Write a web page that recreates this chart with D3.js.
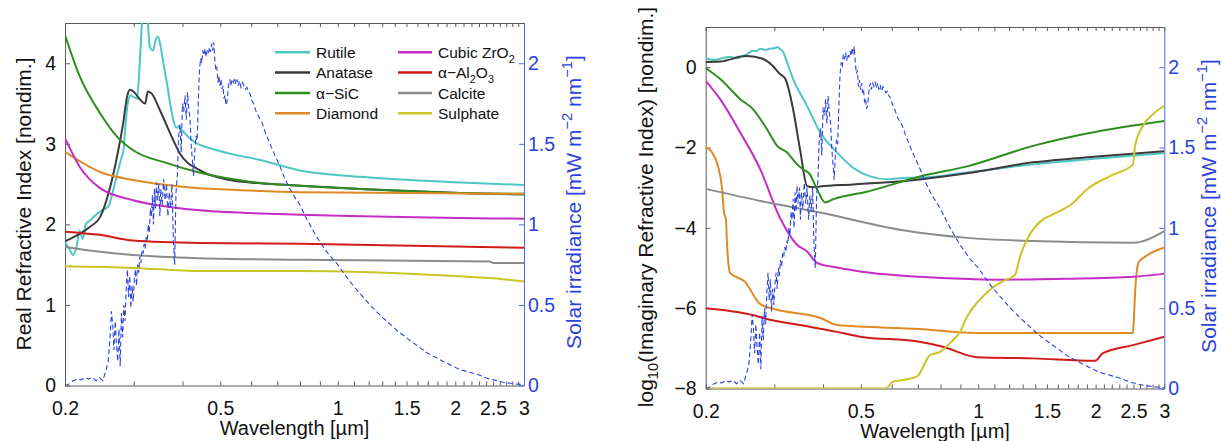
<!DOCTYPE html>
<html><head><meta charset="utf-8">
<script src="https://cdn.jsdelivr.net/npm/d3@7"></script>
<style>
body{margin:0;background:#fff;}
svg{display:block;font-family:"Liberation Sans",Arial,Helvetica,sans-serif;}
</style></head><body>
<svg id="c" width="1221" height="441"></svg>
<script>
// ---------------- DATA ----------------
const materials = ["Rutile","Anatase","α−SiC","Diamond","Cubic ZrO_{2}","α−Al_{2}O_{3}","Calcite","Sulphate"];
const materialColors = ["#4fc6c6","#3b3b3b","#2f8c1f","#e08a26","#c62cc6","#d21a1a","#8c8c8c","#cbc425"];

const xMinorTicks = [0.2,0.3,0.4,0.5,0.6,0.7,0.8,0.9,1,1.1,1.2,1.3,1.4,1.5,1.6,1.7,1.8,1.9,2,2.1,2.2,2.3,2.4,2.5,2.6,2.7,2.8,2.9,3];
const xTickLabels = [0.2,0.5,1,1.5,2,2.5,3];
const realTicks = [0,1,2,3,4];
const imagTicks = [-8,-6,-4,-2,0];
const solarTicks = [0,0.5,1,1.5,2];

// Real refractive index n(λ) : [wavelength µm, n]
const realRutile = [[0.200,1.78],[0.205,1.70],[0.210,1.62],[0.214,1.72],[0.218,1.92],[0.222,1.82],[0.226,2.00],[0.232,2.05],[0.240,2.12],[0.250,2.18],[0.258,2.22],[0.265,2.40],[0.272,2.62],[0.278,2.80],[0.282,2.90],[0.286,3.25],[0.290,3.52],[0.295,3.60],[0.300,3.58],[0.306,3.56],[0.310,3.90],[0.314,4.40],[0.318,4.75],[0.324,4.65],[0.330,4.20],[0.336,4.16],[0.342,4.30],[0.346,4.33],[0.352,4.20],[0.358,3.98],[0.365,3.75],[0.372,3.50],[0.380,3.27],[0.386,3.20],[0.392,3.22],[0.399,3.17],[0.411,3.10],[0.430,3.02],[0.460,2.96],[0.490,2.92],[0.550,2.86],[0.632,2.80],[0.800,2.67],[1.140,2.59],[2.060,2.52],[3.000,2.49]];
const realAnatase = [[0.200,1.79],[0.2318,1.97],[0.246,2.09],[0.261,2.46],[0.2718,2.84],[0.282,3.26],[0.2883,3.58],[0.2935,3.67],[0.3023,3.63],[0.310,3.56],[0.321,3.50],[0.326,3.65],[0.334,3.62],[0.350,3.42],[0.372,3.13],[0.394,2.88],[0.444,2.67],[0.529,2.55],[0.632,2.51],[0.800,2.48],[1.140,2.44],[2.060,2.39],[3.000,2.37]];
const realSiC = [[0.200,4.35],[0.2185,3.83],[0.246,3.38],[0.2718,3.09],[0.299,2.92],[0.365,2.76],[0.444,2.64],[0.596,2.53],[0.800,2.48],[1.140,2.44],[2.060,2.39],[3.000,2.38]];
const realDiamond = [[0.200,2.90],[0.246,2.65],[0.299,2.55],[0.394,2.47],[0.596,2.42],[0.800,2.40],[3.000,2.38]];
const realZrO2 = [[0.200,3.07],[0.2185,2.71],[0.246,2.45],[0.299,2.30],[0.394,2.20],[0.596,2.14],[0.800,2.12],[3.000,2.07]];
const realAl2O3 = [[0.200,1.91],[0.246,1.87],[0.299,1.80],[0.444,1.77],[0.800,1.76],[3.000,1.71]];
const realCalcite = [[0.200,1.72],[0.246,1.66],[0.299,1.62],[0.444,1.58],[0.800,1.56],[2.455,1.54],[2.500,1.52],[3.000,1.52]];
const realSulphate = [[0.200,1.48],[0.299,1.46],[0.444,1.42],[0.800,1.42],[1.140,1.41],[1.830,1.37],[2.500,1.33],[3.000,1.29]];

// log10 imaginary refractive index k(λ)
const imagRutile = [[0.200,0.22],[0.210,0.18],[0.2176,0.21],[0.225,0.24],[0.231,0.26],[0.240,0.22],[0.249,0.28],[0.255,0.32],[0.264,0.41],[0.270,0.40],[0.276,0.46],[0.285,0.43],[0.292,0.46],[0.300,0.47],[0.305,0.50],[0.310,0.45],[0.316,0.38],[0.323,0.13],[0.335,-0.29],[0.364,-0.97],[0.393,-1.62],[0.434,-2.12],[0.477,-2.50],[0.528,-2.72],[0.583,-2.79],[0.657,-2.75],[0.697,-2.75],[0.936,-2.62],[1.382,-2.42],[2.052,-2.27],[3.000,-2.14]];
const imagAnatase = [[0.200,0.13],[0.2176,0.14],[0.249,0.27],[0.255,0.28],[0.280,0.21],[0.296,0.05],[0.310,-0.17],[0.320,-0.29],[0.335,-1.04],[0.349,-2.04],[0.364,-2.96],[0.377,-2.99],[0.393,-2.97],[0.477,-2.92],[0.668,-2.82],[0.936,-2.64],[1.382,-2.37],[2.052,-2.22],[3.000,-2.09]];
const imagSiC = [[0.200,-0.02],[0.2176,-0.29],[0.245,-0.79],[0.264,-1.04],[0.287,-1.54],[0.305,-1.96],[0.323,-2.12],[0.343,-2.42],[0.355,-2.54],[0.370,-2.67],[0.386,-3.04],[0.405,-3.37],[0.424,-3.29],[0.518,-3.10],[0.709,-2.72],[0.936,-2.47],[1.382,-1.96],[2.052,-1.59],[3.000,-1.34]];
const imagDiamond = [[0.200,-1.99],[0.2076,-2.12],[0.215,-2.46],[0.220,-2.97],[0.2229,-3.62],[0.2254,-3.79],[0.2267,-4.37],[0.231,-5.12],[0.252,-5.34],[0.276,-5.90],[0.305,-6.04],[0.393,-6.24],[0.434,-6.42],[0.709,-6.52],[0.992,-6.62],[2.494,-6.62],[2.505,-6.30],[2.530,-5.47],[2.580,-4.85],[2.650,-4.75],[3.000,-4.49]];
const imagZrO2 = [[0.200,-0.34],[0.2176,-0.79],[0.245,-1.62],[0.276,-2.54],[0.310,-3.75],[0.343,-4.42],[0.364,-4.59],[0.386,-4.87],[0.434,-4.99],[0.528,-5.12],[0.709,-5.22],[1.137,-5.29],[1.689,-5.27],[2.494,-5.22],[3.000,-5.14]];
const imagAl2O3 = [[0.200,-6.00],[0.264,-6.17],[0.287,-6.27],[0.349,-6.42],[0.434,-6.59],[0.498,-6.71],[0.700,-6.83],[0.812,-6.96],[0.992,-7.22],[1.382,-7.25],[1.993,-7.31],[2.089,-7.12],[2.494,-6.92],[3.000,-6.71]];
const imagCalcite = [[0.200,-3.03],[0.276,-3.33],[0.393,-3.62],[0.660,-4.08],[0.936,-4.25],[1.382,-4.33],[2.494,-4.37],[3.000,-4.08]];
const imagSulphate = [[0.200,-8.0],[0.580,-8.0],[0.604,-7.83],[0.630,-7.80],[0.697,-7.70],[0.752,-7.17],[0.798,-7.09],[0.846,-6.87],[0.898,-6.59],[0.936,-6.21],[0.992,-5.87],[1.072,-5.54],[1.157,-5.33],[1.242,-5.17],[1.280,-4.71],[1.334,-4.29],[1.466,-3.79],[1.528,-3.70],[1.750,-3.38],[1.901,-3.04],[2.177,-2.71],[2.494,-2.42],[2.524,-1.96],[2.646,-1.46],[2.806,-1.17],[3.000,-0.96]];

// Solar irradiance [mW m^-2 nm^-1]
const solar = [[0.200,0.00],[0.205,0.01],[0.210,0.03],[0.215,0.04],[0.220,0.035],[0.225,0.05],[0.230,0.04],[0.235,0.05],[0.240,0.03],[0.245,0.05],[0.250,0.03],[0.255,0.10],[0.258,0.15],[0.261,0.30],[0.263,0.46],[0.265,0.38],[0.267,0.22],[0.269,0.40],[0.271,0.25],[0.273,0.15],[0.275,0.35],[0.277,0.12],[0.279,0.45],[0.281,0.30],[0.283,0.50],[0.285,0.40],[0.287,0.60],[0.289,0.72],[0.291,0.55],[0.293,0.68],[0.295,0.48],[0.297,0.62],[0.299,0.52],[0.301,0.65],[0.303,0.72],[0.305,0.62],[0.307,0.75],[0.309,0.70],[0.311,0.80],[0.313,0.76],[0.315,0.84],[0.317,0.82],[0.319,0.88],[0.321,0.85],[0.323,0.92],[0.325,0.90],[0.327,1.00],[0.329,0.95],[0.331,1.10],[0.333,1.05],[0.335,1.18],[0.337,1.00],[0.339,1.22],[0.341,1.10],[0.343,1.26],[0.345,1.15],[0.348,1.25],[0.350,1.05],[0.352,1.22],[0.355,1.12],[0.358,1.28],[0.361,1.15],[0.364,1.25],[0.367,1.05],[0.370,1.20],[0.373,1.10],[0.376,1.25],[0.379,0.90],[0.382,0.75],[0.385,1.20],[0.388,1.30],[0.391,1.55],[0.394,1.62],[0.397,1.45],[0.400,1.75],[0.403,1.70],[0.406,1.80],[0.409,1.65],[0.412,1.82],[0.415,1.72],[0.418,1.66],[0.421,1.50],[0.424,1.40],[0.427,1.30],[0.430,1.45],[0.433,1.55],[0.436,1.52],[0.439,1.75],[0.442,1.95],[0.445,2.03],[0.448,2.00],[0.451,2.08],[0.454,2.05],[0.457,2.09],[0.460,2.04],[0.463,2.08],[0.466,2.06],[0.469,2.10],[0.472,2.07],[0.475,2.12],[0.478,2.08],[0.481,2.13],[0.484,2.02],[0.487,1.96],[0.490,1.98],[0.493,1.88],[0.496,1.92],[0.499,1.86],[0.502,1.90],[0.505,1.84],[0.508,1.86],[0.511,1.78],[0.514,1.80],[0.517,1.74],[0.520,1.76],[0.523,1.82],[0.526,1.88],[0.529,1.90],[0.532,1.86],[0.536,1.90],[0.540,1.88],[0.544,1.91],[0.548,1.87],[0.552,1.90],[0.556,1.86],[0.560,1.89],[0.565,1.85],[0.570,1.88],[0.575,1.86],[0.580,1.84],[0.585,1.85],[0.590,1.82],[0.596,1.81],[0.602,1.77],[0.608,1.75],[0.614,1.72],[0.620,1.69],[0.630,1.66],[0.640,1.63],[0.650,1.58],[0.660,1.54],[0.670,1.50],[0.690,1.43],[0.711,1.36],[0.730,1.29],[0.754,1.22],[0.780,1.16],[0.800,1.12],[0.834,1.03],[0.870,0.95],[0.900,0.89],[0.950,0.81],[1.000,0.75],[1.070,0.65],[1.140,0.57],[1.220,0.49],[1.306,0.42],[1.420,0.34],[1.531,0.28],[1.700,0.20],[1.860,0.15],[2.050,0.10],[2.270,0.07],[2.450,0.04],[2.650,0.02],[2.850,0.01],[3.000,0.005]];

const realSeries = [realRutile,realAnatase,realSiC,realDiamond,realZrO2,realAl2O3,realCalcite,realSulphate];
const imagSeries = [imagRutile,imagAnatase,imagSiC,imagDiamond,imagZrO2,imagAl2O3,imagCalcite,imagSulphate];

// ---------------- DRAW ----------------
const svg = d3.select("#c");
const AX = "#5a5a5a", BLUE = "#2b43dc", BLUEAX = "#4a68ec";
const TICKFS = 19.5;

function rich(sel, str, size, supShift, subShift){
  const re = /([_^])\{([^}]*)\}/g;
  let last = 0, m; const parts = [];
  while ((m = re.exec(str))) {
    if (m.index > last) parts.push({t: str.slice(last, m.index), k: 0});
    parts.push({t: m[2], k: m[1] === '^' ? 1 : -1});
    last = re.lastIndex;
  }
  if (last < str.length) parts.push({t: str.slice(last), k: 0});
  let cur = 0;
  parts.forEach(p => {
    const target = p.k === 1 ? -supShift : p.k === -1 ? subShift : 0;
    sel.append("tspan").attr("dy", target - cur).attr("font-size", p.k ? size * 0.7 : size).text(p.t);
    cur = target;
  });
}

function panel(cfg){
  const x = d3.scaleLog().domain([0.2, 3]).range([cfg.left, cfg.right]);
  const y = d3.scaleLinear().domain(cfg.yDomain).range([cfg.bottom, cfg.top]);
  const y2 = d3.scaleLinear().domain([0, 2.25]).range([cfg.bottom, cfg.top]);
  const g = svg.append("g");
  const clipId = "clip" + cfg.id;
  svg.append("defs").append("clipPath").attr("id", clipId).append("rect")
    .attr("x", cfg.left).attr("y", cfg.top).attr("width", cfg.right - cfg.left).attr("height", cfg.bottom - cfg.top);

  const labelSet = new Set(xTickLabels);
  const gb = g.append("g").attr("transform", `translate(0,${cfg.bottom})`)
    .call(d3.axisBottom(x).tickValues(xMinorTicks).tickSize(-4).tickSizeOuter(0).tickPadding(16)
      .tickFormat(d => labelSet.has(d) ? String(d) : ""));
  const gt = g.append("g").attr("transform", `translate(0,${cfg.top})`)
    .call(d3.axisTop(x).tickValues(xMinorTicks).tickSize(-4).tickSizeOuter(0).tickFormat(""));
  const gl = g.append("g").attr("transform", `translate(${cfg.left},0)`)
    .call(d3.axisLeft(y).tickValues(cfg.yTicks).tickSize(-5).tickSizeOuter(0).tickPadding(9)
      .tickFormat(d => String(d).replace("-", "−")));
  const gr = g.append("g").attr("transform", `translate(${cfg.right},0)`)
    .call(d3.axisRight(y2).tickValues(solarTicks).tickSize(-5).tickSizeOuter(0).tickPadding(4)
      .tickFormat(d => String(d)));

  [gb, gt, gl].forEach(a => {
    a.select(".domain").attr("stroke", AX).attr("stroke-width", 1);
    a.selectAll(".tick line").attr("stroke", AX).attr("stroke-width", 1);
    a.selectAll("text").attr("fill", "#111").attr("font-size", TICKFS);
  });
  gr.select(".domain").attr("stroke", BLUEAX).attr("stroke-width", 1);
  gr.selectAll(".tick line").attr("stroke", BLUEAX);
  gr.selectAll("text").attr("fill", BLUE).attr("font-size", TICKFS);
  [gb, gt, gl, gr].forEach(a => a.attr("font-family", null));

  const line = d3.line().x(d => x(d[0])).y(d => y(d[1])).curve(d3.curveMonotoneX);
  const pg = g.append("g").attr("clip-path", `url(#${clipId})`);
  cfg.series.forEach((s, i) => {
    pg.append("path").datum(s).attr("d", line).attr("fill", "none")
      .attr("stroke", materialColors[i]).attr("stroke-width", 2).attr("stroke-linejoin", "round");
  });
  const sline = d3.line().x(d => x(d[0])).y(d => y2(d[1]));
  pg.append("path").datum(solar).attr("d", sline).attr("fill", "none")
    .attr("stroke", BLUE).attr("stroke-width", 1.1).attr("stroke-dasharray", "5,3");

  const cx = (cfg.left + cfg.right) / 2;
  g.append("text").attr("x", cx).attr("y", cfg.xLabelY).attr("text-anchor", "middle")
    .attr("font-size", 20).attr("fill", "#111").text("Wavelength [µm]");
  const yl = g.append("text").attr("transform", `translate(${cfg.yLabelX},${cfg.yLabelY}) rotate(-90)`)
    .attr("text-anchor", "middle").attr("fill", "#111").attr("font-size", 21);
  rich(yl, cfg.yLabel, 21, 8, 5);
  const sl = g.append("text").attr("transform", `translate(${cfg.sLabelX},${cfg.sLabelY}) rotate(-90)`)
    .attr("text-anchor", "middle").attr("fill", BLUE).attr("font-size", 21);
  rich(sl, "Solar irradiance [mW m^{−2} nm^{−1}]", 21, 9, 5);
}

panel({id: 1, left: 65, right: 524, top: 23, bottom: 385.5, yDomain: [0, 4.5], yTicks: realTicks,
  series: realSeries, xLabelY: 435, yLabel: "Real Refractive Index [nondim.]", yLabelX: 31, yLabelY: 204,
  sLabelX: 581, sLabelY: 202});
panel({id: 2, left: 705.7, right: 1164.3, top: 27, bottom: 388.5, yDomain: [-8, 1], yTicks: imagTicks,
  series: imagSeries, xLabelY: 438, yLabel: "log_{10}(Imaginary Refractive Index) [nondim.]", yLabelX: 653, yLabelY: 207,
  sLabelX: 1215.5, sLabelY: 206});

const legendCols = [[275, 310, 316], [398, 432, 438]];
const legendRowY = [52.3, 72.6, 92.9, 113.2];
const lg = svg.append("g");
materials.forEach((name, i) => {
  const col = legendCols[Math.floor(i / 4)], ry = legendRowY[i % 4];
  lg.append("line").attr("x1", col[0]).attr("x2", col[1]).attr("y1", ry).attr("y2", ry)
    .attr("stroke", materialColors[i]).attr("stroke-width", 2.5);
  const t = lg.append("text").attr("x", col[2]).attr("y", ry + 5.8).attr("font-size", 15.5).attr("fill", "#111");
  rich(t, name, 15.5, 7, 5);
});
</script>
</body></html>
